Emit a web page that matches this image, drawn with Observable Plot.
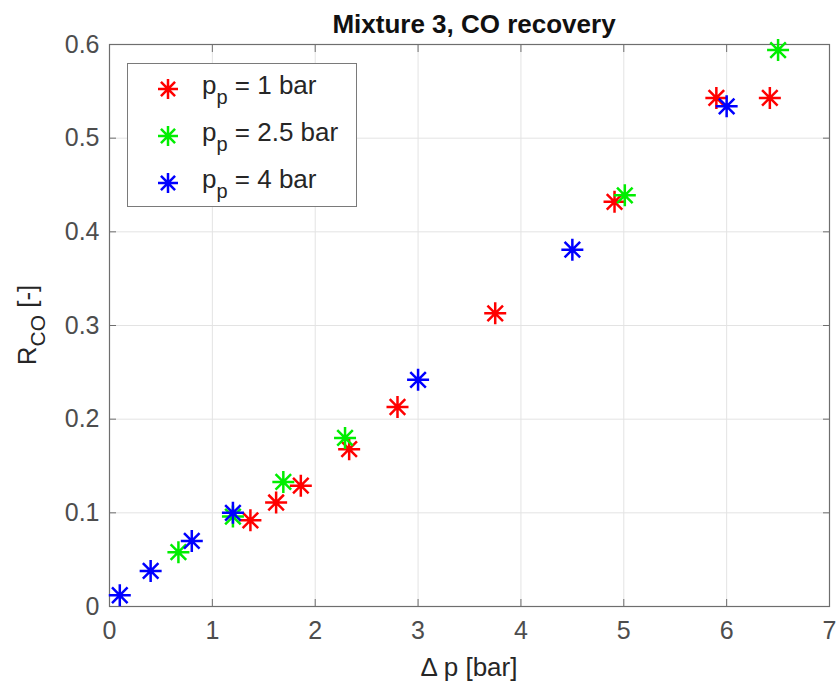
<!DOCTYPE html>
<html><head><meta charset="utf-8">
<script src="https://cdn.jsdelivr.net/npm/d3@7"></script>
<script src="https://cdn.jsdelivr.net/npm/@observablehq/plot@0.6"></script>
<style>
body{margin:0;background:#fff;}
#wrap{position:relative;width:836px;height:688px;font-family:"Liberation Sans",Arial,sans-serif;}
#legend{position:absolute;left:127px;top:63px;width:230px;height:144px;border:1px solid #7a7a7a;background:#fff;box-sizing:border-box;}
.row{position:absolute;left:0;height:40px;display:flex;align-items:center;font-size:26px;color:#262626;white-space:nowrap;}
.row svg{margin-left:28px;margin-right:22px;}
.row sub{font-size:20px;vertical-align:-0.5em;}
</style></head><body><div id="wrap"></div>
<script>
const seriesLabels = ["1 bar", "2.5 bar", "4 bar"];
const seriesColors = ["#ff0000", "#00ee00", "#0000ff"];
// p_p = 1 bar
const dp1 = [1.37, 1.62, 1.86, 2.33, 2.80, 3.75, 4.91, 5.90, 6.42];
const r1  = [0.092, 0.111, 0.129, 0.168, 0.213, 0.313, 0.432, 0.543, 0.543];
// p_p = 2.5 bar
const dp25 = [0.67, 1.20, 1.69, 2.29, 5.01, 6.50];
const r25  = [0.058, 0.096, 0.133, 0.180, 0.439, 0.594];
// p_p = 4 bar
const dp4 = [0.10, 0.40, 0.80, 1.20, 3.00, 4.50, 6.00];
const r4  = [0.012, 0.038, 0.070, 0.100, 0.242, 0.381, 0.534];
const xTicks = [0, 1, 2, 3, 4, 5, 6, 7];
const yTicks = [0, 0.1, 0.2, 0.3, 0.4, 0.5, 0.6];
const titleText = "Mixture 3, CO recovery";

const seriesX = [dp1, dp25, dp4];
const seriesY = [r1, r25, r4];
const data = [];
seriesX.forEach((xs, s) => xs.forEach((x, i) => data.push({dp: x, r: seriesY[s][i], s: seriesLabels[s]})));

const asterisk = {
  draw(ctx, size) {
    const r = Math.sqrt(size / Math.PI), d = r * Math.SQRT1_2;
    ctx.moveTo(-r, 0); ctx.lineTo(r, 0);
    ctx.moveTo(0, -r); ctx.lineTo(0, r);
    ctx.moveTo(-d, -d); ctx.lineTo(d, d);
    ctx.moveTo(-d, d); ctx.lineTo(d, -d);
  }
};

const axisCol = "#6e6e6e";
const tickTxt = "#4d4d4d";
const fs = 25;
const chart = Plot.plot({
  width: 836, height: 688,
  marginLeft: 109, marginRight: 7, marginTop: 44, marginBottom: 82,
  style: {fontFamily: '"Liberation Sans", Arial, sans-serif', background: "white", overflow: "visible"},
  x: {domain: [0, 7], label: null},
  y: {domain: [0, 0.6], label: null},
  color: {domain: seriesLabels, range: seriesColors},
  marks: [
    Plot.gridX(xTicks, {stroke: "#e3e3e3", strokeOpacity: 1}),
    Plot.gridY(yTicks, {stroke: "#e3e3e3", strokeOpacity: 1}),
    Plot.axisX(xTicks, {anchor: "bottom", tickSize: 0, tickPadding: 15, fontSize: fs, fill: tickTxt, label: null}),
    Plot.axisY(yTicks, {anchor: "left", tickSize: 0, tickPadding: 10, fontSize: fs, fill: tickTxt, label: null, tickFormat: d => String(d)}),
    Plot.axisX(xTicks, {anchor: "bottom", tickSize: -7, stroke: axisCol, tickFormat: () => "", label: null}),
    Plot.axisX(xTicks, {anchor: "top", tickSize: -7, stroke: axisCol, tickFormat: () => "", label: null}),
    Plot.axisY(yTicks, {anchor: "left", tickSize: -7, stroke: axisCol, tickFormat: () => "", label: null}),
    Plot.axisY(yTicks, {anchor: "right", tickSize: -7, stroke: axisCol, tickFormat: () => "", label: null}),
    Plot.frame({stroke: axisCol, strokeWidth: 1.2}),
    Plot.dot(data, {x: "dp", y: "r", stroke: "s", fill: "none", symbol: asterisk, r: 11, strokeWidth: 2.5})
  ]
});

const svg = d3.select(chart);
svg.append("text").attr("x", 474).attr("y", 33).attr("text-anchor", "middle")
  .attr("font-size", 26).attr("font-weight", "bold").attr("fill", "#111").text(titleText);
svg.append("text").attr("x", 469).attr("y", 676).attr("text-anchor", "middle")
  .attr("font-size", 26).attr("fill", "#262626").text("\u0394 p [bar]");
const yl = svg.append("text").attr("transform", "translate(36,325) rotate(-90)").attr("text-anchor", "middle")
  .attr("font-size", 26).attr("fill", "#262626");
yl.append("tspan").text("R");
yl.append("tspan").attr("dy", 9).attr("font-size", 21).text("CO");
yl.append("tspan").attr("dy", -9).text(" [-]");

const wrap = document.getElementById("wrap");
wrap.appendChild(chart);

const legend = document.createElement("div");
legend.id = "legend";
const pth = d3.path();
asterisk.draw(pth, Math.PI * 10 * 10);
seriesLabels.forEach((lab, i) => {
  const row = document.createElement("div");
  row.className = "row";
  row.style.top = (5 + i * 47) + "px";
  row.innerHTML = `<svg width="24" height="24" viewBox="-12 -12 24 24"><path d="${pth.toString()}" stroke="${seriesColors[i]}" stroke-width="2.5" fill="none"/></svg><span>p<sub>p</sub> = ${lab}</span>`;
  legend.appendChild(row);
});
wrap.appendChild(legend);
</script></body></html>
